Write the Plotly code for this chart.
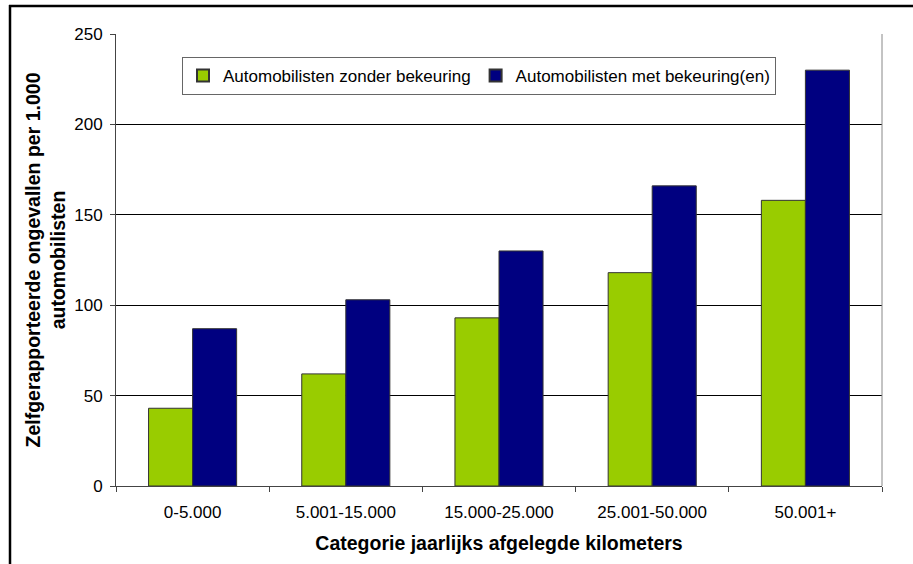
import plotly.graph_objects as go

categories = ["0-5.000", "5.001-15.000", "15.000-25.000", "25.001-50.000", "50.001+"]
zonder = [43, 62, 93, 118, 158]
met = [87, 103, 130, 166, 230]
series_names = ["Automobilisten zonder bekeuring", "Automobilisten met bekeuring(en)"]
y_ticks = [0, 50, 100, 150, 200, 250]

font_family = "Liberation Sans, Arial, sans-serif"

fig = go.Figure()
fig.add_trace(go.Bar(x=categories, y=zonder, name=series_names[0],
                     marker=dict(color="#99CC00", line=dict(color="#333333", width=1))))
fig.add_trace(go.Bar(x=categories, y=met, name=series_names[1],
                     marker=dict(color="#000080", line=dict(color="#333333", width=1))))

W, H = 913, 564
L, R, T, B = 116, 31, 34, 78
pw, ph = W - L - R, H - T - B

def px_x(x):
    return (x - L) / pw

def px_y(y):
    return (H - B - y) / ph

fig.update_layout(
    width=W, height=H,
    margin=dict(l=L, r=R, t=T, b=B, pad=0),
    paper_bgcolor="white", plot_bgcolor="white",
    font=dict(family=font_family, size=17, color="black"),
    barmode="group", bargap=0.425, bargroupgap=0,
    showlegend=True,
    legend=dict(orientation="h", x=px_x(182), y=px_y(57), xanchor="left", yanchor="top",
                bordercolor="#666666", borderwidth=1, bgcolor="white",
                font=dict(size=17), itemsizing="constant", traceorder="normal"),
    xaxis=dict(showline=True, linecolor="#444444", linewidth=1, mirror=False,
               ticks="outside", ticklen=5, tickcolor="#444444",
               tickson="boundaries", showgrid=False, ticklabelstandoff=11,
               title=dict(text="<b>Categorie jaarlijks afgelegde kilometers</b>",
                          font=dict(size=19.5), standoff=14)),
    yaxis=dict(range=[0, 250], tickvals=y_ticks, showline=True, linecolor="#444444",
               linewidth=1, ticks="outside", ticklen=5, tickcolor="#444444",
               showgrid=True, gridcolor="black", gridwidth=1, zeroline=False,
               ticklabelstandoff=4,
               title=dict(text="<b>Zelfgerapporteerde ongevallen per 1.000<br>automobilisten</b>",
                          font=dict(size=19.5), standoff=3)),
    shapes=[
        dict(type="line", xref="paper", yref="paper", x0=px_x(10), x1=px_x(10),
             y0=px_y(5), y1=px_y(564), line=dict(color="black", width=2.5)),
        dict(type="line", xref="paper", yref="paper", x0=px_x(9), x1=px_x(913),
             y0=px_y(6), y1=px_y(6), line=dict(color="black", width=2.5)),
        dict(type="line", xref="paper", yref="paper", x0=1, x1=1, y0=0, y1=1,
             line=dict(color="#888888", width=1)),
    ],
)

fig.write_html("out.html")
